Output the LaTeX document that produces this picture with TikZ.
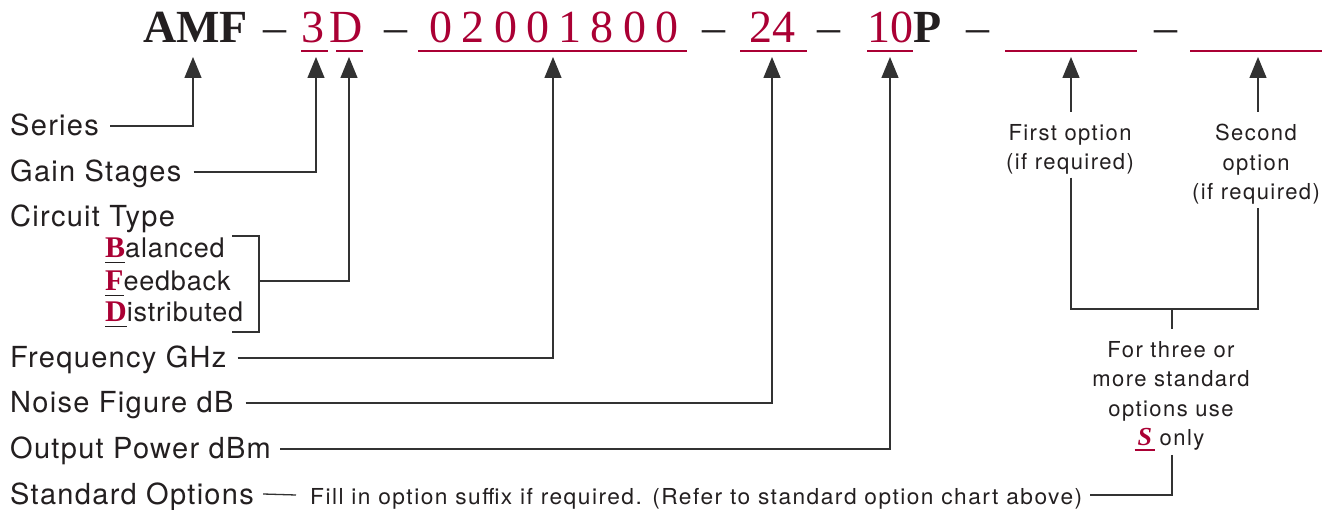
\documentclass[tikz,border=0pt]{standalone}
\usepackage{fontspec}
\setmainfont{Liberation Serif}
\newfontfamily\spacedserif[LetterSpace=20]{Liberation Serif}
\newfontfamily\lblfont[LetterSpace=4.5]{TeX Gyre Heros}
\newfontfamily\subfont[LetterSpace=3]{TeX Gyre Heros}
\newfontfamily\notefont[LetterSpace=6.5]{TeX Gyre Heros}
\usetikzlibrary{arrows.meta}
\definecolor{amred}{RGB}{170,0,52}
\definecolor{ink}{RGB}{35,31,32}
\definecolor{wirec}{RGB}{50,50,50}
\newcommand\myunder[3]{\setbox0\hbox{#3}\rlap{\hspace{-#2}\color{#1}\rule[-5pt]{\dimexpr\wd0+#2+#2\relax}{1.3pt}}\box0\relax}
\tikzset{
  ttl/.style={inner sep=0pt, anchor=base, text=ink, font=\fontsize{46}{50}\selectfont},
  redttl/.style={ttl, text=amred},
  uline/.style={draw=amred, line width=1.3pt},
  wire/.style={draw=wirec, line width=1.3pt},
  arr/.style={wire, -{Triangle[length=21pt,width=17pt]}},
  lbl/.style={inner sep=0pt, anchor=base west, text=ink, font=\lblfont\fontsize{29}{34}\selectfont, text height=20pt, text depth=0pt},
  sublbl/.style={inner sep=0pt, anchor=base west, text=ink, font=\subfont\fontsize{27}{32}\selectfont},
  note/.style={inner sep=0pt, text=ink, align=center, font=\notefont\fontsize{22}{29.5}\selectfont},
}
\newcommand\ini[1]{\myunder{ink}{0pt}{\textcolor{amred}{\rmfamily\bfseries\fontsize{30}{30}\selectfont #1}}}
\begin{document}
\begin{tikzpicture}[x=1pt,y=-1pt]
\fill[white] (0,0) rectangle (1334,510);
\useasboundingbox (0,0) rectangle (1334,510);

% ---- title row ----
\node[ttl] (amf) at (195.5,43) {\bfseries AMF};
\node[ttl] (d1) at (275,43) {–};
\node[redttl] (three) at (313,43) {3};
\node[redttl] (dee) at (346.5,43) {D};
\node[ttl] (d2) at (396,43) {–};
\node[redttl, font=\spacedserif\fontsize{46}{50}\selectfont] (freqnum) at (554,43) {02001800};
\node[ttl] (d3) at (714,43) {–};
\node[redttl] (nf) at (772,43) {24};
\node[ttl] (d4) at (829,43) {–};
\node[redttl] (pw) at (890,43) {10};
\node[ttl, anchor=base west] (pee) at (pw.base east) {\bfseries P};
\node[ttl] (d5) at (978,43) {–};
\node[ttl] (d6) at (1166,43) {–};

\draw[uline] (301,51) -- (328,51);
\draw[uline] (336,51) -- (363,51);
\draw[uline] (418,51) -- (687,51);
\draw[uline] (740,51) -- (807,51);
\draw[uline] (867,51) -- (913,51);
\draw[uline] (1005,51) -- (1137,51);
\draw[uline] (1190,51) -- (1322,51);

\coordinate (tAMF) at (193,57);
\coordinate (tThree) at (316,57);
\coordinate (tDee) at (349,57);
\coordinate (tFreq) at (553,57);
\coordinate (tNF) at (772,57);
\coordinate (tPW) at (890,57);
\coordinate (tOptA) at (1071,57);
\coordinate (tOptB) at (1258,57);

% ---- left labels ----
\node[lbl] (series) at (10,136) {Series};
\node[lbl] (gain) at (10,182) {Gain Stages};
\node[lbl] (circ) at (10,227) {Circuit Type};
\node[sublbl] (bal) at (105,258) {\ini{B}alanced};
\node[sublbl] (fb) at (105,291) {\ini{F}eedback};
\node[sublbl] (dist) at (105,322) {\ini{D}istributed};
\node[lbl] (freq) at (10,368) {Frequency GHz};
\node[lbl] (noise) at (10,413) {Noise Figure dB};
\node[lbl] (outp) at (10,459) {Output Power dBm};
\node[lbl] (std) at (10,504) {Standard Options};
\node[inner sep=0pt, anchor=base west, text=ink, text height=18pt, text depth=0pt,
      font=\notefont\fontsize{22}{26}\selectfont] (fill) at (310,504)
      {\resizebox{772pt}{\height}{Fill in option suffix if required. (Refer to standard option chart above)}};

\draw[arr] ([xshift=11pt]series.east) -| (tAMF);
\draw[arr] ([xshift=12pt]gain.east) -| (tThree);
\coordinate (brTop) at (232,236);
\coordinate (brTR) at (259,236);
\coordinate (brMid) at (259,281);
\coordinate (brBR) at (259,332);
\coordinate (brBot) at (232,332);
\draw[wire] (brTop) -- (brTR) -- (brBR) -- (brBot);
\draw[arr] (brMid) -| (tDee);
\draw[arr] ([xshift=11pt]freq.east) -| (tFreq);
\draw[arr] ([xshift=12pt]noise.east) -| (tNF);
\draw[arr] ([xshift=9pt]outp.east) -| (tPW);
\draw[wire] ([xshift=9pt]std.east) -- ([xshift=-14pt]fill.west);

% ---- right side ----
\node[note, anchor=north] (optA) at (1070,124) {First option\\(if required)};
\node[note, anchor=north] (optB) at (1256,124) {Second\\option\\(if required)};
\node[note, anchor=north] (many) at (1171,341)
  {For three or\\more standard\\options use\\\myunder{amred}{3pt}{\textcolor{amred}{\rmfamily\bfseries\itshape\fontsize{26}{26}\selectfont S}} only};
\coordinate (jn) at (1172,309);
\draw[arr, shorten <=12pt] (tOptA |- optA.north) -- (tOptA);
\draw[arr, shorten <=12pt] (tOptB |- optB.north) -- (tOptB);
\draw[wire] ([yshift=-3pt]tOptA |- optA.south) |- (jn) -| ([yshift=-3pt]tOptB |- optB.south);
\draw[wire] (jn) -- ([yshift=12pt]jn |- many.north);
\draw[wire] ([yshift=-4pt]jn |- many.south) |- ([xshift=8pt]fill.east);
\end{tikzpicture}
\end{document}
